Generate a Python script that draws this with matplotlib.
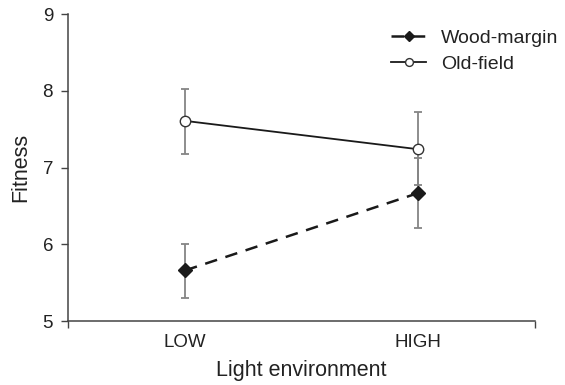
import numpy as np
import matplotlib
matplotlib.use("Agg")
import matplotlib.pyplot as plt

plt.rcParams['font.family'] = ['Liberation Sans', 'DejaVu Sans']

light = ['LOW', 'HIGH']
wood_mean = [5.66, 6.67]
wood_lo = [5.30, 6.21]
wood_hi = [6.01, 7.13]
old_mean = [7.61, 7.24]
old_lo = [7.18, 6.77]
old_hi = [8.03, 7.72]

x = np.array([1, 2])
fig = plt.figure(figsize=(5.65, 3.85), dpi=100)
ax = fig.add_axes([0.121, 0.166, 0.826, 0.797])

ecol = '#858585'
txt = '#222222'

def bars(mean, lo, hi):
    err = [np.array(mean) - np.array(lo), np.array(hi) - np.array(mean)]
    ax.errorbar(x, mean, yerr=err, fmt='none', ecolor=ecol, elinewidth=1.3,
                capsize=3, capthick=1.3, zorder=1)

bars(wood_mean, wood_lo, wood_hi)
bars(old_mean, old_lo, old_hi)

ax.plot(x, wood_mean, color='#1a1a1a', lw=1.8, ls=(0, (5, 3.5)), marker='D',
        ms=7, mfc='#1a1a1a', mec='#1a1a1a', label='Wood-margin', zorder=3)
ax.plot(x, old_mean, color='#1a1a1a', lw=1.3, marker='o', ms=7.5,
        mfc='white', mec='#333333', mew=1.0, label='Old-field', zorder=3)

ax.set_xlim(0.5, 2.5)
ax.set_ylim(5, 9)
ax.set_yticks([5, 6, 7, 8, 9])
ax.set_xticks([1, 2])
ax.set_xticklabels(light)
ax.set_xticks([0.5, 2.5], minor=True)
ax.tick_params(axis='x', which='major', length=0, pad=9, labelsize=13.5, labelcolor=txt)
ax.tick_params(axis='x', which='minor', length=5, width=1, color='#444444')
ax.tick_params(axis='y', length=5, width=1, color='#444444', labelsize=13.5,
               labelcolor=txt, pad=6)
for s in ['top', 'right']:
    ax.spines[s].set_visible(False)
for s in ['left', 'bottom']:
    ax.spines[s].set_color('#444444')
    ax.spines[s].set_linewidth(1.1)

ax.set_xlabel('Light environment', fontsize=15.5, color=txt, labelpad=7)
ax.set_ylabel('Fitness', fontsize=15.5, color=txt, labelpad=8)

ax.legend(loc='upper right', bbox_to_anchor=(1.05, 0.952), frameon=False,
          borderpad=0, borderaxespad=0, fontsize=14, handlelength=1.8,
          handletextpad=0.75, labelspacing=0.45, markerscale=0.75,
          labelcolor=txt)

fig.savefig('out.png', dpi=100)
